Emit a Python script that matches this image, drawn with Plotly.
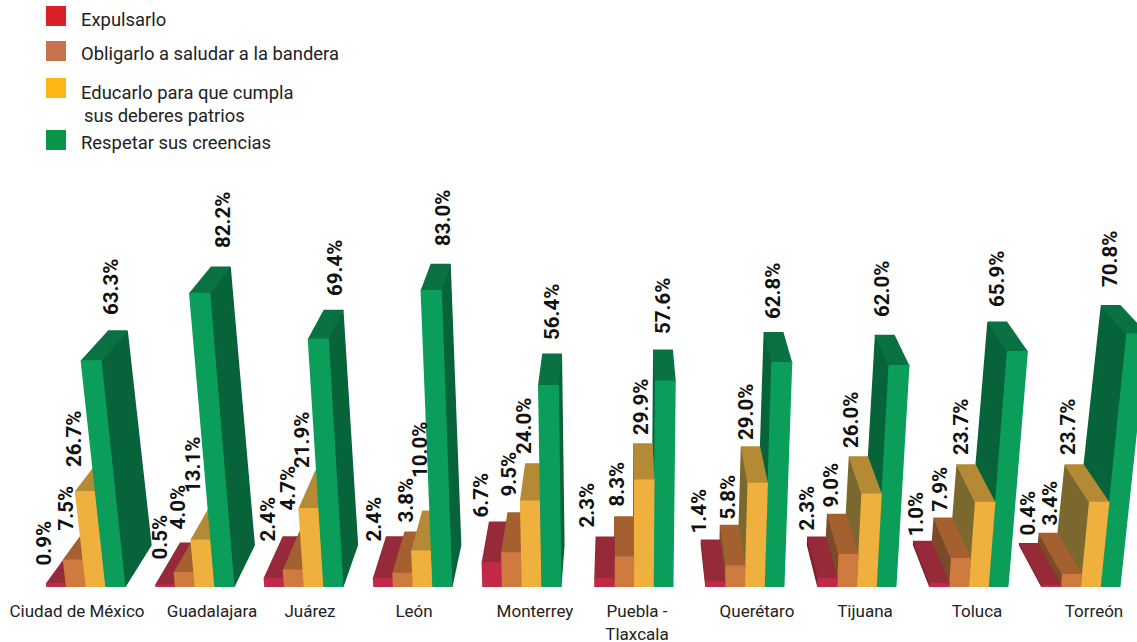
import plotly.graph_objects as go

W, H = 1137, 642
BASE_PX = 587
PX_PER_PCT = 3.57

cities = ["Ciudad de México", "Guadalajara", "Juárez", "León", "Monterrey",
          "Puebla -<br>Tlaxcala", "Querétaro", "Tijuana", "Toluca", "Torreón"]
expulsarlo = [0.9, 0.5, 2.4, 2.4, 6.7, 2.3, 1.4, 2.3, 1.0, 0.4]
obligarlo = [7.5, 4.0, 4.7, 3.8, 9.5, 8.3, 5.8, 9.0, 7.9, 3.4]
educarlo = [26.7, 13.1, 21.9, 10.0, 24.0, 29.9, 29.0, 26.0, 23.7, 23.7]
respetar = [63.3, 82.2, 69.4, 83.0, 56.4, 57.6, 62.8, 62.0, 65.9, 70.8]
series_names = ["Expulsarlo", "Obligarlo a saludar a la bandera",
                "Educarlo para que cumpla sus deberes patrios", "Respetar sus creencias"]
series = [expulsarlo, obligarlo, educarlo, respetar]

# --- layout tables (pixels) ---
group_left = [47, 156, 265, 374, 483, 595, 706, 818, 930, 1042]
slot_w, bar_w = 19.7, 18.6
city_label_x = [77, 212, 310, 414, 535, 637, 757, 865, 977, 1094]
label_x = [[43, 65, 74, 111], [159, 177, 193, 223], [267, 287, 302, 335], [373, 405, 420, 443],
           [480, 508, 524, 552], [586, 616, 641, 663], [698, 727, 746, 773],
           [806, 830, 851, 882], [915, 939, 961, 997], [1027, 1049, 1068, 1110]]
label_bottom = [[566, 531, 467, 315], [560, 530, 493, 248], [542, 511, 468, 296], [542, 523, 478, 246],
                [518, 497, 454, 340], [528, 507, 435, 334], [534, 520, 440, 319],
                [531, 508, 448, 317], [537, 512, 455, 307], [536, 526, 455, 287]]
front_col = ["#c02a48", "#cf7a3e", "#efb03e", "#0b9e5a"]
top_col = ["#962a38", "#a4612f", "#b58a35", "#0a7242"]
side_col = ["#7c2330", "#7b4a28", "#7a682f", "#07633a"]
legend_col = ["#da1f26", "#c8734e", "#fdb714", "#0a9548"]

CX, LEAN, DEPTH = 620, 0.076, 0.053


def paper_y(py):
    return 1 - py / BASE_PX


def project(x, v, d):
    """x: pixel column at the floor, v: percent height, d: 0 front, 1 back."""
    px = x + (x - CX) * LEAN * v / 100 + (CX - x) * DEPTH * d
    py = v + d * (42 - 0.19 * v) / PX_PER_PCT
    return px, py


def face(points, colour, name):
    xs, ys = zip(*points)
    return go.Scatter(x=list(xs) + [xs[0]], y=list(ys) + [ys[0]], mode="lines", fill="toself",
                      fillcolor=colour, line=dict(color=colour, width=1.5), hoverinfo="skip",
                      name=name, showlegend=False)


fig = go.Figure()
annotations = []
for c in range(len(cities)):
    centre = group_left[c] + 2 * slot_w
    order = range(4) if centre < CX else range(3, -1, -1)
    for s in order:
        v = series[s][c]
        x0 = group_left[c] + s * slot_w
        x1 = x0 + bar_w
        xs = x1 if (x0 + x1) / 2 < CX else x0
        fig.add_trace(face([project(xs, 0, 0), project(xs, v, 0), project(xs, v, 1), project(xs, 0, 1)],
                           side_col[s], series_names[s]))
        fig.add_trace(face([project(x0, v, 0), project(x1, v, 0), project(x1, v, 1), project(x0, v, 1)],
                           top_col[s], series_names[s]))
        fig.add_trace(face([project(x0, 0, 0), project(x1, 0, 0), project(x1, v, 0), project(x0, v, 0)],
                           front_col[s], series_names[s]))
        annotations.append(dict(text=f"<b>{v:.1f}%</b>", xref="paper", yref="paper",
                                x=label_x[c][s] / W, y=paper_y(label_bottom[c][s] + 2),
                                xanchor="center", yanchor="bottom", textangle=-90, showarrow=False,
                                font=dict(family="Roboto", size=20.5, color="#111111")))

shapes = []
for (top_y, text, text_y), colour in zip([(6, "Expulsarlo", 19), (41, "Obligarlo a saludar a la bandera", 54),
                                          (78, "Educarlo para que cumpla", 92),
                                          (130, "Respetar sus creencias", 143)], legend_col):
    shapes.append(dict(type="rect", xref="paper", yref="paper", x0=46 / W, x1=66 / W,
                       y0=paper_y(top_y + 20), y1=paper_y(top_y), fillcolor=colour, line_width=0))
    annotations.append(dict(text=text, xref="paper", yref="paper", x=79 / W, y=paper_y(text_y),
                            xanchor="left", yanchor="middle", showarrow=False,
                            font=dict(family="Roboto", size=18.4, color="#222222")))
annotations.append(dict(text="sus deberes patrios", xref="paper", yref="paper", x=82 / W, y=paper_y(115),
                        xanchor="left", yanchor="middle", showarrow=False,
                        font=dict(family="Roboto", size=18.4, color="#222222")))

fig.update_layout(
    width=W, height=H, margin=dict(l=0, r=0, t=0, b=H - BASE_PX),
    paper_bgcolor="white", plot_bgcolor="white", showlegend=False,
    annotations=annotations, shapes=shapes,
    xaxis=dict(range=[0, W], tickmode="array", tickvals=city_label_x, ticktext=cities,
               automargin=False, showgrid=False, zeroline=False, showline=False,
               ticks="outside", ticklen=9, tickcolor="rgba(0,0,0,0)", tickangle=0,
               tickfont=dict(family="Roboto", size=17, color="#222222")),
    yaxis=dict(range=[0, BASE_PX / PX_PER_PCT], visible=False, automargin=False),
)
fig.write_html("out.html", config=dict(displayModeBar=False),
               post_script="document.body.style.margin='0';document.documentElement.style.overflow='hidden';")
